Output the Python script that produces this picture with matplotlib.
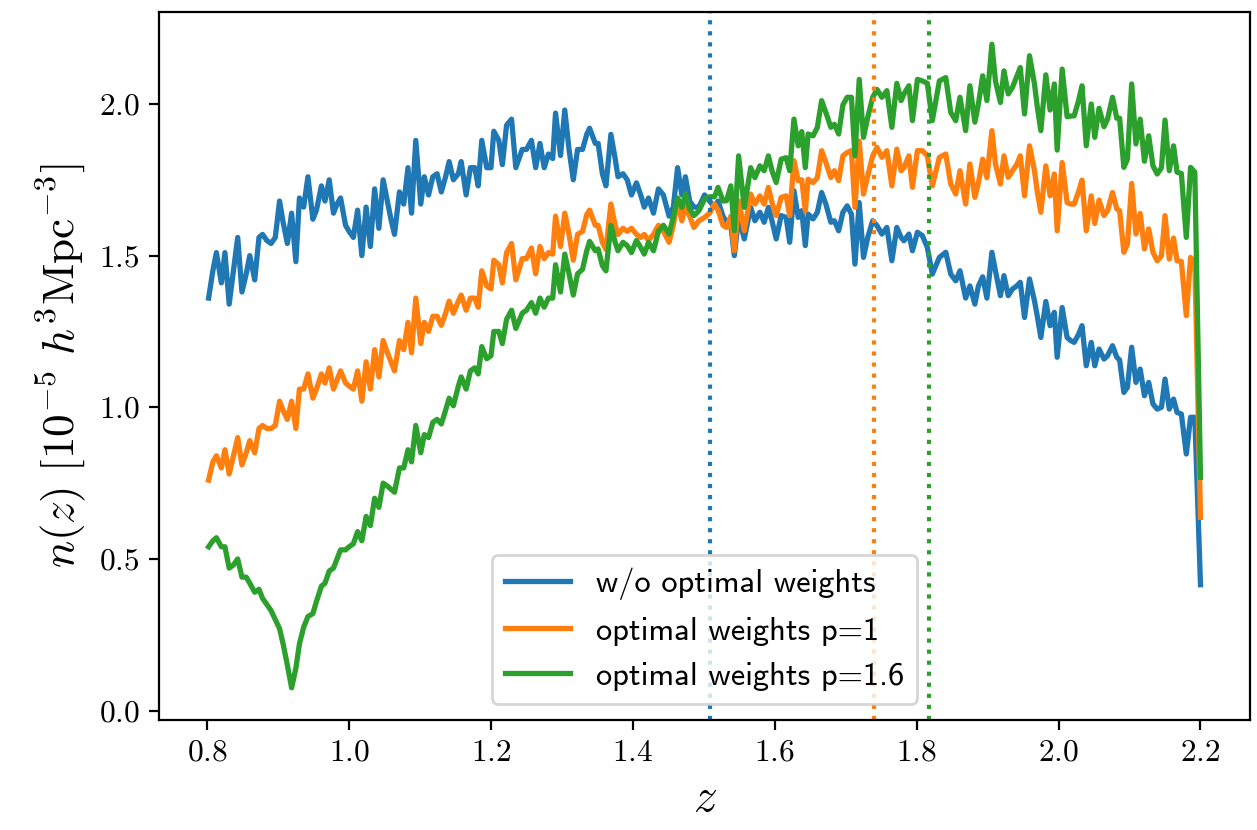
import numpy as np
import matplotlib
matplotlib.use('Agg')
import matplotlib.pyplot as plt

plt.rcParams['mathtext.fontset'] = 'cm'
plt.rcParams['font.family'] = 'serif'
plt.rcParams['font.serif'] = ['cmr10']
plt.rcParams['axes.formatter.use_mathtext'] = True

# redshift bins
z = [0.802, 0.808, 0.813, 0.820, 0.825, 0.831, 0.837, 0.843, 0.849, 0.855,
     0.860, 0.867, 0.873, 0.878, 0.884, 0.890, 0.896, 0.902, 0.907, 0.913,
     0.919, 0.925, 0.930, 0.936, 0.942, 0.949, 0.954, 0.961, 0.966, 0.972,
     0.978, 0.983, 0.988, 0.995, 1.000, 1.006, 1.012, 1.018, 1.024, 1.030,
     1.036, 1.042, 1.048, 1.054, 1.059, 1.064, 1.071, 1.077, 1.083, 1.088,
     1.094, 1.101, 1.106, 1.112, 1.118, 1.124, 1.130, 1.136, 1.141, 1.147,
     1.154,
     1.158, 1.165, 1.171, 1.177, 1.182, 1.187, 1.194, 1.200, 1.204, 1.211,
     1.216, 1.222, 1.229, 1.235, 1.244, 1.250, 1.257, 1.263, 1.269, 1.275,
     1.281, 1.287, 1.291, 1.298, 1.304, 1.310, 1.316, 1.322, 1.329, 1.335,
     1.339, 1.347, 1.351, 1.357, 1.362, 1.369, 1.375, 1.379, 1.386, 1.392,
     1.398, 1.405, 1.411, 1.416, 1.422, 1.429, 1.436, 1.443, 1.451, 1.457,
     1.463, 1.469, 1.474, 1.480, 1.486, 1.493, 1.501, 1.508, 1.515, 1.520,
     1.527, 1.532, 1.538, 1.543,
     1.549, 1.557, 1.566, 1.572, 1.579, 1.585, 1.591, 1.596, 1.602, 1.609,
     1.616, 1.621, 1.627, 1.633, 1.638, 1.643, 1.647, 1.654, 1.660, 1.666,
     1.672, 1.679, 1.684, 1.690, 1.696, 1.702, 1.708, 1.713, 1.719, 1.725,
     1.731, 1.738, 1.744, 1.751, 1.758, 1.765, 1.772, 1.778, 1.782, 1.789,
     1.794, 1.801, 1.808, 1.815, 1.822, 1.832, 1.841, 1.848, 1.855, 1.861,
     1.869, 1.875, 1.882, 1.887, 1.893, 1.899, 1.906, 1.911, 1.918, 1.923,
     1.929, 1.935, 1.941, 1.946, 1.952, 1.959, 1.966, 1.970, 1.975, 1.982,
     1.988, 1.994, 1.998, 2.005, 2.012, 2.017, 2.022, 2.028, 2.033, 2.039,
     2.046, 2.051, 2.057, 2.064, 2.069, 2.076, 2.082, 2.086, 2.092, 2.097,
     2.103, 2.109, 2.115, 2.121, 2.127, 2.133, 2.139, 2.145, 2.150, 2.156,
     2.162, 2.167, 2.173, 2.180, 2.186, 2.192, 2.200]

# n(z) without weights
n_noweight = [1.36, 1.45, 1.51, 1.41, 1.51, 1.34, 1.45, 1.56, 1.38, 1.44,
              1.50, 1.42, 1.56, 1.57, 1.55, 1.54, 1.56, 1.68, 1.61, 1.54,
              1.64, 1.48, 1.69, 1.66, 1.76, 1.62, 1.65, 1.73, 1.68, 1.75,
              1.64, 1.67, 1.69, 1.60, 1.58, 1.56, 1.65, 1.50, 1.66, 1.53,
              1.72, 1.59, 1.75, 1.68, 1.62, 1.57, 1.71, 1.67, 1.79, 1.64,
              1.88, 1.67, 1.76, 1.70, 1.76, 1.77, 1.71, 1.76, 1.81, 1.75,
              1.77,
              1.81, 1.70, 1.79, 1.79, 1.73, 1.88, 1.79, 1.79, 1.91, 1.88,
              1.80, 1.93, 1.95, 1.79, 1.85, 1.85, 1.88, 1.79, 1.87, 1.79,
              1.835, 1.82, 1.97, 1.83, 1.98, 1.85, 1.75, 1.85, 1.85, 1.90,
              1.92, 1.87, 1.87, 1.77, 1.73, 1.90, 1.82, 1.76, 1.77, 1.75,
              1.70, 1.74, 1.70, 1.66, 1.69, 1.64, 1.72, 1.70, 1.63, 1.66,
              1.79, 1.70, 1.76, 1.68, 1.66, 1.66, 1.70, 1.68, 1.66, 1.68,
              1.63, 1.61, 1.60, 1.50,
              1.626, 1.555, 1.659, 1.615, 1.643, 1.610, 1.659, 1.615, 1.555, 1.632,
              1.626, 1.544, 1.714, 1.626, 1.648, 1.533, 1.637, 1.621, 1.643, 1.708,
              1.670, 1.610, 1.615, 1.582, 1.643, 1.664, 1.637, 1.472, 1.675, 1.494,
              1.560, 1.615, 1.599, 1.571, 1.593, 1.483, 1.593, 1.560, 1.549, 1.571,
              1.516, 1.577, 1.566, 1.527, 1.439, 1.494, 1.511, 1.439, 1.417, 1.450,
              1.36, 1.40, 1.34, 1.40, 1.43, 1.36, 1.511, 1.45, 1.368, 1.434,
              1.368, 1.390, 1.40, 1.412, 1.296, 1.423, 1.351, 1.30, 1.230, 1.349,
              1.269, 1.313, 1.165, 1.329, 1.230, 1.22, 1.214, 1.24, 1.269, 1.137,
              1.214, 1.137, 1.192, 1.159, 1.170, 1.203, 1.165, 1.156, 1.049, 1.066,
              1.198, 1.082, 1.126, 1.038, 1.082, 1.011, 0.994, 1.00, 1.093, 0.994,
              1.027, 0.983, 0.978, 0.846, 0.967, 0.967, 0.415]

# n(z) with optimal weights, p=1
n_p1 = [0.76, 0.82, 0.84, 0.80, 0.86, 0.78, 0.84, 0.90, 0.81, 0.85,
        0.89, 0.85, 0.93, 0.94, 0.93, 0.93, 0.94, 1.02, 0.99, 0.96,
        1.02, 0.93, 1.06, 1.06, 1.11, 1.03, 1.06, 1.11, 1.08, 1.13,
        1.06, 1.09, 1.12, 1.08, 1.07, 1.06, 1.12, 1.02, 1.15, 1.06,
        1.19, 1.10, 1.22, 1.18, 1.15, 1.12, 1.22, 1.19, 1.28, 1.18,
        1.36, 1.21, 1.28, 1.25, 1.30, 1.30, 1.27, 1.31, 1.35, 1.31,
        1.35,
        1.37, 1.32, 1.36, 1.36, 1.33, 1.45, 1.40, 1.39, 1.485, 1.47,
        1.41, 1.51, 1.54, 1.42, 1.49, 1.49, 1.525, 1.44, 1.53, 1.49,
        1.51, 1.505, 1.63, 1.53, 1.64, 1.57, 1.485, 1.57, 1.58, 1.635,
        1.65, 1.60, 1.60, 1.544, 1.52, 1.67, 1.60, 1.57, 1.59, 1.58,
        1.59, 1.57, 1.56, 1.57, 1.55, 1.57, 1.60, 1.58, 1.544, 1.60,
        1.68, 1.615, 1.66, 1.63, 1.593, 1.615, 1.626, 1.64, 1.67, 1.65,
        1.60, 1.593, 1.63, 1.516,
        1.681, 1.582, 1.703, 1.670, 1.697, 1.670, 1.725, 1.675, 1.632, 1.692,
        1.697, 1.632, 1.813, 1.747, 1.75, 1.648, 1.752, 1.741, 1.757, 1.846,
        1.807, 1.757, 1.780, 1.747, 1.829, 1.840, 1.846, 1.659, 1.878, 1.703,
        1.763, 1.829, 1.857, 1.824, 1.846, 1.730, 1.851, 1.780, 1.79, 1.829,
        1.725, 1.846, 1.846, 1.829, 1.730, 1.824, 1.835, 1.736, 1.703, 1.780,
        1.670, 1.802, 1.692, 1.74, 1.818, 1.757, 1.912, 1.802, 1.736, 1.829,
        1.758, 1.780, 1.80, 1.829, 1.697, 1.862, 1.780, 1.71, 1.643, 1.796,
        1.697, 1.769, 1.582, 1.807, 1.675, 1.67, 1.670, 1.71, 1.749, 1.582,
        1.697, 1.606, 1.683, 1.632, 1.648, 1.708, 1.654, 1.648, 1.511, 1.538,
        1.738, 1.571, 1.639, 1.522, 1.588, 1.511, 1.483, 1.50, 1.632, 1.489,
        1.558, 1.483, 1.481, 1.302, 1.494, 1.48, 0.637]

# n(z) with optimal weights, p=1.6
n_p16 = [0.54, 0.56, 0.57, 0.54, 0.54, 0.47, 0.48, 0.50, 0.44, 0.44,
         0.42, 0.39, 0.40, 0.37, 0.35, 0.33, 0.30, 0.27, 0.22, 0.15,
         0.075, 0.14, 0.22, 0.275, 0.31, 0.32, 0.36, 0.41, 0.42, 0.46,
         0.47, 0.50, 0.53, 0.53, 0.54, 0.55, 0.59, 0.56, 0.64, 0.61,
         0.70, 0.67, 0.75, 0.74, 0.73, 0.72, 0.80, 0.80, 0.86, 0.82,
         0.94, 0.85, 0.91, 0.90, 0.95, 0.96, 0.945, 0.99, 1.03, 1.005,
         1.07,
         1.10, 1.06, 1.12, 1.13, 1.11, 1.20, 1.16, 1.17, 1.25, 1.25,
         1.21, 1.29, 1.32, 1.26, 1.31, 1.32, 1.345, 1.31, 1.36, 1.33,
         1.36, 1.36, 1.47, 1.38, 1.505, 1.44, 1.37, 1.44, 1.455, 1.516,
         1.547, 1.516, 1.522, 1.467, 1.45, 1.60, 1.544, 1.516, 1.544, 1.533,
         1.51, 1.55, 1.527, 1.505, 1.544, 1.516, 1.58, 1.60, 1.571, 1.628,
         1.69, 1.659, 1.703, 1.654, 1.632, 1.648, 1.686, 1.694, 1.694, 1.725,
         1.68, 1.681, 1.73, 1.582,
         1.829, 1.659, 1.790, 1.757, 1.796, 1.780, 1.829, 1.780, 1.741, 1.818,
         1.823, 1.780, 1.950, 1.862, 1.909, 1.790, 1.901, 1.895, 1.923, 2.011,
         1.972, 1.923, 1.933, 1.901, 1.997, 2.022, 2.022, 1.829, 2.081, 1.890,
         1.956, 2.022, 2.048, 2.022, 2.044, 1.923, 2.068, 2.011, 2.033, 2.060,
         1.945, 2.081, 2.076, 2.068, 1.945, 2.076, 2.087, 1.972, 1.945, 2.022,
         1.912, 2.060, 1.940, 2.000, 2.093, 2.011, 2.197, 2.076, 2.005, 2.109,
         2.033, 2.055, 2.09, 2.120, 1.967, 2.159, 2.066, 1.99, 1.912, 2.096,
         1.980, 2.066, 1.848, 2.115, 1.958, 1.96, 1.961, 2.01, 2.060, 1.862,
         2.000, 1.890, 1.986, 1.925, 1.950, 2.022, 1.953, 1.953, 1.791, 1.818,
         2.066, 1.868, 1.950, 1.811, 1.895, 1.796, 1.769, 1.79, 1.947, 1.780,
         1.862, 1.775, 1.771, 1.560, 1.791, 1.775, 0.769]

# effective redshifts
z_eff = [1.509, 1.740, 1.818]
labels = ['w/o optimal weights', 'optimal weights p=1', 'optimal weights p=1.6']

fig = plt.figure(figsize=(6.285, 4.15), dpi=200)
ax = fig.add_axes([0.1265, 0.1325, 0.868, 0.853])

for i, n in enumerate([n_noweight, n_p1, n_p16]):
    ax.plot(z, n, color='C%i' % i, lw=1.9, label=labels[i])
for i in range(3):
    ax.axvline(z_eff[i], color='C%i' % i, ls=':', lw=1.5)

ax.set_xlabel(r'$z$', fontsize=17)
ax.set_ylabel(r'$n(z)\ [10^{-5}\ h^3\mathrm{Mpc}^{-3}]$', fontsize=16.3)
ax.tick_params(labelsize=11.3)
ax.legend(loc='lower center', prop={'family': 'cmss10', 'size': 11.7})

fig.savefig('out.png', dpi=200)
